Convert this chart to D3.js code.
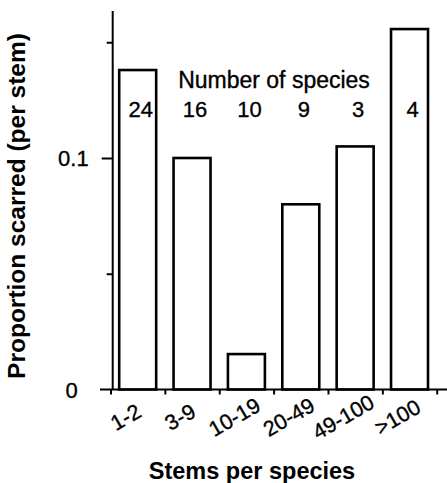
<!DOCTYPE html>
<html>
<head>
<meta charset="utf-8">
<script src="https://cdn.jsdelivr.net/npm/d3@7"></script>
<style>
  body { margin: 0; background: #fff; }
  text { font-family: "Liberation Sans", Arial, Helvetica, sans-serif; fill: #000; }
  /* the scan has heavy glyphs, a hairline stroke thickens the text a bit */
  text.thick { stroke: #000; stroke-width: 0.35px; }
</style>
</head>
<body>
<div class="chart"></div>
<script>
// values
const categories = ["1-2", "3-9", "10-19", "20-49", "49-100", ">100"];
const proportions = [0.138, 0.100, 0.0153, 0.080, 0.105, 0.1557];
const speciesCounts = [24, 16, 10, 9, 3, 4];
const yTickValues = [0, 0.05, 0.1, 0.15];
const yTickLabels = ["0", "", "0.1", ""];

const width = 447, height = 483;

const svg = d3.select(".chart")
  .append("svg")
  .attr("width", width)
  .attr("height", height);

// band scale, outer padding half of inner so the tick marks sit between bars
const x = d3.scaleBand()
  .domain(categories)
  .range([110.5, 436.7])
  .paddingInner(0.32)
  .paddingOuter(0.16);

const y = d3.scaleLinear()
  .domain([0, 0.1635])
  .range([389.5, 11]);

// bars
svg.selectAll("rect.bar")
  .data(categories)
  .join("rect")
  .attr("class", "bar")
  .attr("x", d => x(d))
  .attr("width", x.bandwidth())
  .attr("y", (d, i) => y(proportions[i]))
  .attr("height", (d, i) => y(0) - y(proportions[i]))
  .attr("fill", "#fff")
  .attr("stroke", "#000")
  .attr("stroke-width", 2.6);

// y axis
const yAxis = svg.append("g")
  .attr("transform", `translate(112.7,0)`)
  .call(d3.axisLeft(y)
    .tickValues(yTickValues)
    .tickFormat((d, i) => yTickLabels[i])
    .tickSizeOuter(0)
    .tickPadding(4));

yAxis.select(".domain")
  .attr("stroke-width", 2)
  .attr("d", `M0,${y.range()[1]}V${y(0)}`);
yAxis.selectAll(".tick line")
  .attr("stroke-width", 2)
  .attr("x2", d => d === 0.1 ? -11 : -6);
yAxis.selectAll(".tick text")
  .attr("class", "thick")
  .style("font-size", "22px")
  .attr("x", -24)
  .attr("dy", "0.36em")
  .attr("dx", d => d === 0 ? -11 : 0);
yAxis.selectAll(".tick").filter(d => d === 0).select("line").remove();

// x axis: plain line with small boundary ticks
const boundary = d3.scaleLinear().domain([0, categories.length]).range(x.range());

svg.append("line")
  .attr("x1", 100).attr("x2", width)
  .attr("y1", y(0)).attr("y2", y(0))
  .attr("stroke", "#000")
  .attr("stroke-width", 2);

const xAxis = svg.append("g")
  .attr("transform", `translate(0,${y(0)})`)
  .call(d3.axisBottom(boundary)
    .tickValues(d3.range(categories.length + 1))
    .tickFormat("")
    .tickSize(5)
    .tickSizeOuter(0));
xAxis.select(".domain").remove();
xAxis.selectAll(".tick line").attr("stroke-width", 2);

// rotated category labels
svg.selectAll("text.cat")
  .data(categories)
  .join("text")
  .attr("class", "cat thick")
  .attr("text-anchor", "middle")
  .attr("dy", "0.35em")
  .attr("transform", d => `translate(${x(d) + x.bandwidth() / 2 - 12},417) rotate(-30)`)
  .style("font-size", "21.5px")
  .text(d => d);

// species counts
svg.append("text")
  .attr("class", "thick")
  .attr("x", 274)
  .attr("y", 87.5)
  .attr("text-anchor", "middle")
  .style("font-size", "23px")
  .text("Number of species");

svg.selectAll("text.count")
  .data(speciesCounts)
  .join("text")
  .attr("class", "count thick")
  .attr("x", (d, i) => x(categories[i]) + x.bandwidth() / 2 + 3)
  .attr("y", 116.7)
  .attr("text-anchor", "middle")
  .style("font-size", "22px")
  .text(d => d);

// axis titles
svg.append("text")
  .attr("transform", "translate(25,206) rotate(-90)")
  .attr("text-anchor", "middle")
  .style("font-size", "24.5px")
  .style("font-weight", "bold")
  .text("Proportion scarred (per stem)");

svg.append("text")
  .attr("x", 252)
  .attr("y", 479)
  .attr("text-anchor", "middle")
  .style("font-size", "23.5px")
  .style("font-weight", "bold")
  .text("Stems per species");
</script>
</body>
</html>
